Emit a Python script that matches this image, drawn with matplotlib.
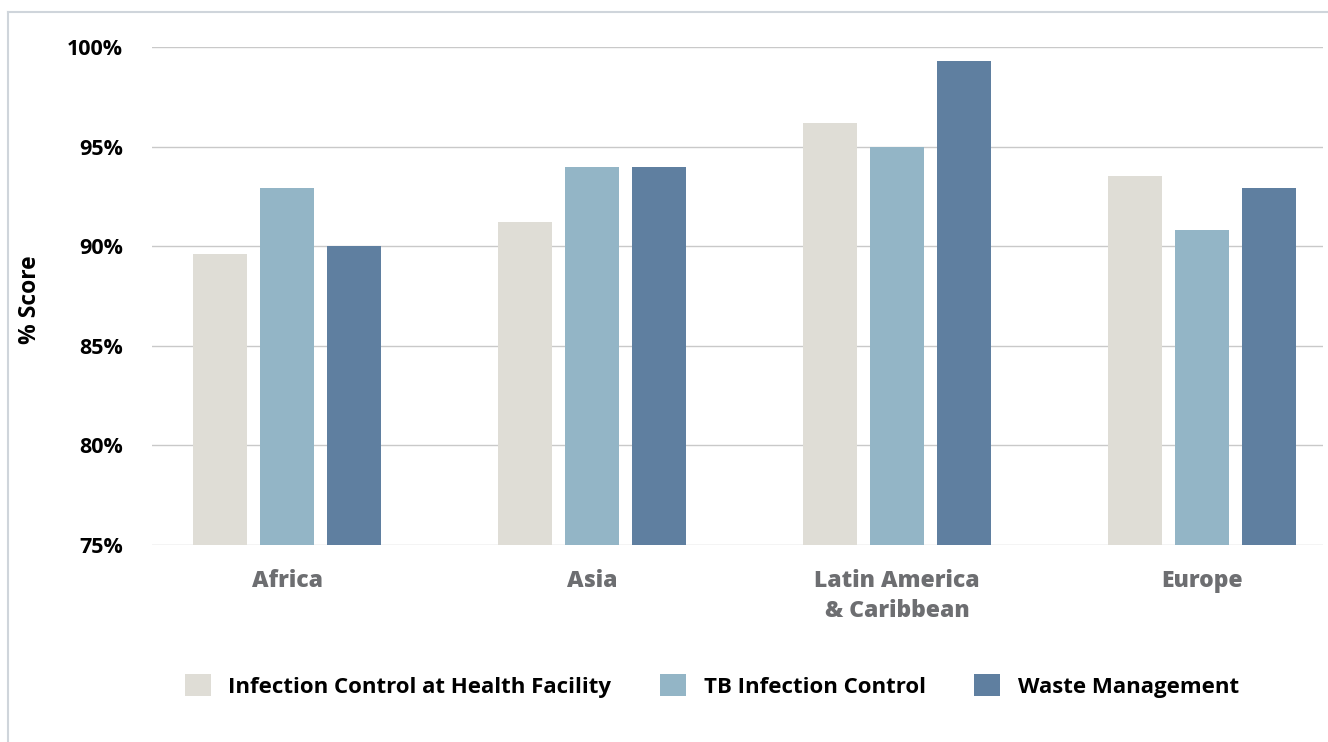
import matplotlib
matplotlib.use("Agg")
import matplotlib.pyplot as plt
from matplotlib.lines import Line2D
from matplotlib.patches import Patch
import numpy as np

plt.rcParams['font.family'] = ['Open Sans', 'DejaVu Sans']
plt.rcParams['font.weight'] = 'bold'

regions = ["Africa", "Asia", "Latin America\n& Caribbean", "Europe"]
series_names = ["Infection Control at Health Facility", "TB Infection Control", "Waste Management"]
ic_health = [89.6, 91.2, 96.2, 93.5]
tb_control = [92.9, 94.0, 95.0, 90.8]
waste_mgmt = [90.0, 94.0, 99.3, 92.9]
y_ticks = [75, 80, 85, 90, 95, 100]
y_tick_labels = ["75%", "80%", "85%", "90%", "95%", "100%"]

colors = ["#dfddd6", "#93b5c6", "#5f7fa0"]
W, H = 1328, 742
fig = plt.figure(figsize=(W / 100, H / 100), dpi=100)
ax = fig.add_axes([152 / W, 1 - 545 / H, (1323 - 152) / W, (545 - 47) / H])

x = np.arange(len(regions))
bw = 0.177
step = 0.221
for i, (vals, c) in enumerate(zip([ic_health, tb_control, waste_mgmt], colors)):
    ax.bar(x + (i - 1) * step, vals, width=bw, color=c, zorder=3, bottom=0)

ax.set_ylim(75, 100)
ax.set_xlim(-0.443, 3.397)
ax.tick_params(axis='y', length=0, pad=21)
ax.tick_params(axis='x', length=0, pad=17)
ax.set_yticks(y_ticks)
ax.set_yticklabels(y_tick_labels)
ax.set_xticks(x)
ax.set_xticklabels(regions, linespacing=1.35)
for lbl in ax.get_yticklabels():
    lbl.set_fontsize(15.5)
    lbl.set_fontweight('bold')
    lbl.set_color('black')
for lbl in ax.get_xticklabels():
    lbl.set_fontsize(16.5)
    lbl.set_fontweight('heavy')
    lbl.set_color('#6d6e71')
ax.grid(axis='y', color='#c9c9c9', linewidth=1.0, zorder=0)
for s in ax.spines.values():
    s.set_visible(False)

fig.text(30 / W, 1 - 300 / H, "% Score", rotation=90, ha='center', va='center',
         fontsize=16.5, fontweight='bold', color='black')

# frame lines along top and left edges
fig.add_artist(Line2D([8 / W, 1], [1 - 12 / H, 1 - 12 / H], color='#cfd5db', lw=1.5))
fig.add_artist(Line2D([8 / W, 8 / W], [0, 1 - 12 / H], color='#cfd5db', lw=1.5))

handles = [Patch(facecolor=c, edgecolor='none') for c in colors]
fig.legend(handles, series_names, loc='center', bbox_to_anchor=(712 / W, 1 - 686 / H),
           ncol=3, frameon=False, handlelength=1.15, handleheight=1.15,
           handletextpad=0.8, columnspacing=2.2,
           prop={'family': ['Open Sans', 'DejaVu Sans'], 'weight': 'bold', 'size': 16})

fig.savefig("out.png", dpi=100)
